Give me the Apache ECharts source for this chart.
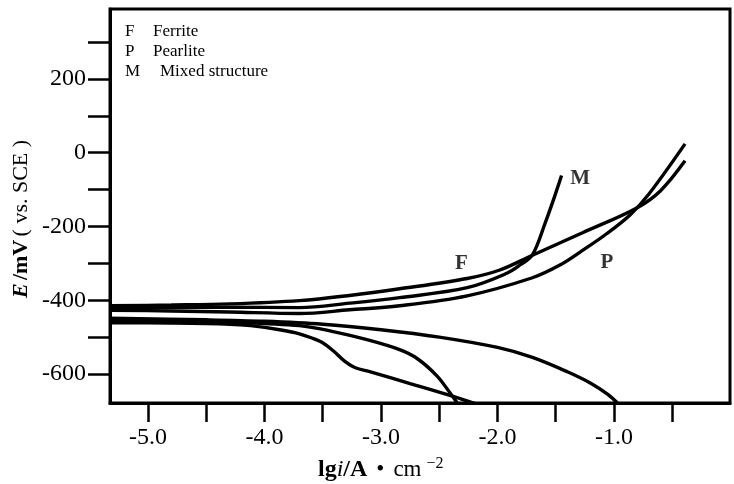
<!DOCTYPE html>
<html>
<head>
<meta charset="utf-8">
<script src="https://cdn.jsdelivr.net/npm/echarts@6/dist/echarts.min.js"></script>
<style>
html,body{margin:0;padding:0;background:#fff;}
#chart{width:734px;height:484px;}
</style>
</head>
<body>
<div id="chart"></div>
<script>
// ---- data (x = lg i, y = E / mV vs. SCE) ----
const ferriteAnodic = [[-5.33,-415],[-4.8,-413],[-4.3,-410],[-3.70,-401],[-3.27,-387],[-2.84,-369],[-2.26,-341],[-1.98,-318],[-1.70,-278],[-1.27,-217],[-0.80,-149],[-0.60,-103],[-0.39,-22]];
const mixedAnodic = [[-5.33,-421],[-4.8,-420],[-4.3,-419],[-3.70,-420],[-3.27,-408],[-2.84,-393],[-2.26,-366],[-1.92,-327],[-1.80,-303],[-1.70,-277],[-1.59,-190],[-1.51,-119],[-1.45,-62]];
const pearliteAnodic = [[-5.33,-427],[-4.8,-429],[-4.3,-432],[-3.70,-436],[-3.27,-426],[-2.84,-415],[-2.26,-388],[-1.70,-339],[-1.46,-304],[-1.27,-265],[-1.06,-219],[-0.86,-168],[-0.70,-112],[-0.39,24]];
const cathodicLong = [[-5.33,-449],[-4.5,-453],[-4.0,-457],[-3.5,-465],[-3.0,-480],[-2.5,-500],[-2.0,-528],[-1.7,-555],[-1.4,-594],[-1.2,-625],[-1.05,-656],[-0.95,-685]];
const cathodicMid = [[-5.33,-455],[-4.8,-457],[-4.3,-460],[-3.70,-469],[-3.41,-485],[-3.12,-507],[-2.84,-534],[-2.69,-558],[-2.52,-605],[-2.41,-650],[-2.33,-685]];
const cathodicStep = [[-5.33,-461],[-4.8,-462],[-4.3,-465],[-4.12,-469],[-3.87,-480],[-3.70,-491],[-3.52,-512],[-3.41,-537],[-3.31,-566],[-3.22,-583],[-3.09,-594],[-2.75,-626],[-2.38,-661],[-2.18,-682]];
const curveLabels = [[-2.31,-301,'F'],[-1.06,-298,'P'],[-1.29,-70,'M']];
const legendRows = [['F','Ferrite'],['P','Pearlite'],['M','Mixed structure']];
const xTicks = [-5,-4.5,-4,-3.5,-3,-2.5,-2,-1.5,-1,-0.5];
const xLabels = [-5,-4,-3,-2,-1];
const yTicks = [-600,-500,-400,-300,-200,-100,0,100,200,300];
const yLabels = [-600,-400,-200,0,200];

const FONT = '"Liberation Serif", "Times New Roman", serif';
const chart = echarts.init(document.getElementById('chart'), null, {renderer:'canvas'});

function curve(name, data){
  return {
    name, type:'line', data, smooth:0.35,
    symbol:'none', lineStyle:{color:'#000', width:3.4}, silent:true, clip:true, z:3
  };
}

const graphic = [];
legendRows.forEach((r,i)=>{
  graphic.push({type:'text', x:125, y:32+i*20, style:{text:r[0], fontFamily:FONT, fontSize:17, fill:'#000', verticalAlign:'middle', textVerticalAlign:'middle'}});
  graphic.push({type:'text', x:(r[0]==='M'?160:153), y:32+i*20, style:{text:r[1], fontFamily:FONT, fontSize:17, fill:'#000', verticalAlign:'middle', textVerticalAlign:'middle'}});
});
graphic.push({
  type:'text', x:21, y:219, rotation:Math.PI/2,
  style:{
    text:'{e|E} {b|/mV} {n|( vs. SCE )}',
    align:'center', verticalAlign:'middle', textAlign:'center', textVerticalAlign:'middle',
    rich:{
      e:{fontFamily:FONT, fontSize:22, fontStyle:'italic', fontWeight:'bold', fill:'#000'},
      b:{fontFamily:FONT, fontSize:22, fontWeight:'bold', fill:'#000'},
      n:{fontFamily:FONT, fontSize:22, fill:'#000'}
    }
  }
});
graphic.push({
  type:'text', x:318, y:470,
  style:{
    text:'{b|lg}{i|i}{b|/A}{d|•}{n|cm}{s|−2}',
    align:'left', verticalAlign:'middle', textAlign:'left', textVerticalAlign:'middle',
    rich:{
      b:{fontFamily:FONT, fontSize:24, fontWeight:'bold', fill:'#000'},
      i:{fontFamily:FONT, fontSize:24, fontStyle:'italic', fill:'#000'},
      d:{fontFamily:FONT, fontSize:23, fill:'#000', padding:[0,9,0,9]},
      n:{fontFamily:FONT, fontSize:23, fill:'#000'},
      s:{fontFamily:FONT, fontSize:16, fill:'#000', padding:[0,0,13,5]}
    }
  }
});

const option = {
  backgroundColor:'#fff',
  animation:false,
  grid:{left:110, top:9, width:620, height:394, show:true, borderColor:'#000', borderWidth:3, backgroundColor:'transparent'},
  xAxis:{
    type:'value', min:-5.326, max:-0.004,
    splitLine:{show:false},
    axisLine:{show:true, onZero:false, lineStyle:{color:'#000', width:3}},
    axisTick:{show:true, inside:false, length:19, customValues:xTicks, lineStyle:{color:'#000', width:2.5}},
    axisLabel:{show:true, customValues:xLabels, margin:23, color:'#000', fontFamily:FONT, fontSize:24,
      formatter:v=>Number(v).toFixed(1)}
  },
  yAxis:{
    type:'value', min:-678.7, max:389.8,
    splitLine:{show:false},
    axisLine:{show:true, onZero:false, lineStyle:{color:'#000', width:3}},
    axisTick:{show:true, inside:false, length:22, customValues:yTicks, lineStyle:{color:'#000', width:2.5}},
    axisLabel:{show:true, customValues:yLabels, margin:24, color:'#000', fontFamily:FONT, fontSize:24,
      formatter:v=>String(v)}
  },
  series:[
    curve('Ferrite anodic', ferriteAnodic),
    curve('Mixed anodic', mixedAnodic),
    curve('Pearlite anodic', pearliteAnodic),
    curve('Cathodic 1', cathodicLong),
    curve('Cathodic 2', cathodicMid),
    curve('Cathodic 3', cathodicStep),
    {
      type:'scatter', data:curveLabels, symbolSize:1, itemStyle:{color:'transparent'}, silent:true, z:5,
      label:{show:true, position:'inside', formatter:p=>p.data[2], color:'#000', fontFamily:FONT, fontSize:21, fontWeight:'bold'}
    }
  ],
  graphic
};
chart.setOption(option);
</script>
</body>
</html>
